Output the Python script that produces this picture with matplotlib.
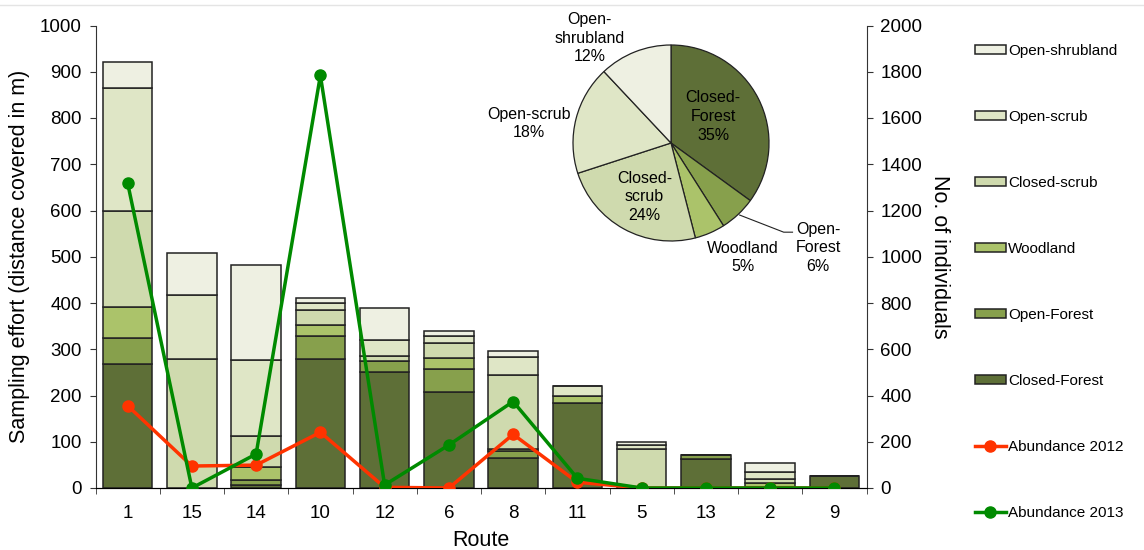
import numpy as np
import matplotlib
matplotlib.use('Agg')
import matplotlib.pyplot as plt
from matplotlib.patches import Patch
from matplotlib.lines import Line2D

plt.rcParams['font.family'] = ['Liberation Sans', 'DejaVu Sans']

# Data
routes = ['1', '15', '14', '10', '12', '6', '8', '11', '5', '13', '2', '9']
closed_forest = [269, 0, 6, 279, 250, 207, 64, 183, 0, 63, 2, 25]
open_forest = [55, 0, 11, 50, 25, 51, 16, 0, 0, 9, 0, 0]
woodland = [67, 0, 29, 23, 0, 23, 4, 16, 0, 0, 9, 0]
closed_scrub = [209, 279, 67, 33, 11, 32, 161, 0, 84, 0, 8, 0]
open_scrub = [264, 138, 163, 15, 35, 16, 39, 21, 10, 0, 16, 0]
open_shrubland = [56, 91, 207, 10, 68, 11, 12, 0, 6, 0, 18, 0]

abund_2012 = [356, 95, 99, 241, 3, 0, 232, 25, 0, 0, 0, 0]
abund_2013 = [1319, 0, 147, 1784, 13, 186, 374, 42, 0, 0, 0, 0]

habitats = ['Closed-Forest', 'Open-Forest', 'Woodland', 'Closed-scrub', 'Open-scrub', 'Open-shrubland']
pie_share = [35, 6, 5, 24, 18, 12]

colors = ['#5e6f37', '#87a04c', '#abc36a', '#cfdaae', '#dfe6c6', '#eef0e2']
red = '#ff3300'
green = '#008a00'

fig = plt.figure(figsize=(11.44, 5.5), dpi=100)
fig.add_artist(Line2D([0, 1], [1 - 5 / 550, 1 - 5 / 550], color='#e4e4e4', lw=1))

ax = fig.add_axes([95.5 / 1144, 62 / 550, 771 / 1144, 462.5 / 550])
x = np.arange(len(routes))
bottom = np.zeros(len(routes))
stack = [closed_forest, open_forest, woodland, closed_scrub, open_scrub, open_shrubland]
for vals, col in zip(stack, colors):
    ax.bar(x, vals, 0.77, bottom=bottom, color=col, edgecolor='#222222', linewidth=1.1, zorder=2)
    bottom += np.array(vals)

ax.set_xlim(-0.5, len(routes) - 0.5)
ax.set_ylim(0, 1000)
ax.set_yticks(np.arange(0, 1001, 100))
ax.set_xticks(x)
ax.set_xticklabels(routes)
ax.set_xticks(np.arange(-0.5, len(routes), 1), minor=True)
ax.tick_params(axis='x', which='major', length=0, labelsize=13.5, pad=12)
ax.tick_params(axis='x', which='minor', length=4, direction='out', color='#333333')
ax.tick_params(axis='y', length=4, direction='out', labelsize=13.5, pad=6, color='#333333')
ax.spines['top'].set_visible(False)
ax.spines['right'].set_visible(False)
for s in ['left', 'bottom']:
    ax.spines[s].set_color('#333333')
ax.set_ylabel('Sampling effort (distance covered in m)', fontsize=15.5, labelpad=7)
ax.set_xlabel('Route', fontsize=15.5, labelpad=6)

ax2 = ax.twinx()
ax2.plot(x, abund_2012, color=red, lw=2.5, marker='o', ms=8, zorder=3)
ax2.plot(x, abund_2013, color=green, lw=2.5, marker='o', ms=8, zorder=4)
ax2.set_ylim(0, 2000)
ax2.set_yticks(np.arange(0, 2001, 200))
ax2.tick_params(axis='y', length=4, direction='out', labelsize=13.5, pad=6, color='#333333')
ax2.spines['top'].set_visible(False)
ax2.spines['left'].set_visible(False)
ax2.spines['right'].set_color('#333333')
ax2.set_ylabel('No. of individuals', fontsize=15.5, rotation=270, labelpad=20)

# Pie inset
pax = fig.add_axes([573 / 1144, (550 - 241) / 550, 196 / 1144, 196 / 550])
wedges, _ = pax.pie(pie_share, colors=colors, startangle=90, counterclock=False,
                    wedgeprops=dict(edgecolor='#222222', linewidth=0.9))
pax.set_xlim(-1, 1)
pax.set_ylim(-1, 1)
pax.set_aspect('equal')

pie_labels = ['Closed-\nForest\n35%', 'Open-\nForest\n6%', 'Woodland\n5%',
              'Closed-\nscrub\n24%', 'Open-scrub\n18%', 'Open-\nshrubland\n12%']
label_pos = [(0.43, 0.27), (1.5, -1.07), (0.73, -1.17), (-0.27, -0.55), (-1.45, 0.2), (-0.83, 1.07)]
for lab, (px, py) in zip(pie_labels, label_pos):
    pax.text(px, py, lab, ha='center', va='center', fontsize=11.5, linespacing=1.3, clip_on=False)
pax.plot([0.70, 1.15, 1.24], [-0.735, -0.91, -0.91], color='#222222', lw=0.8, clip_on=False)

handles = [Patch(facecolor=c, edgecolor='#222222', linewidth=1.1) for c in colors[::-1]]
handles += [Line2D([], [], color=red, lw=2.5, marker='o', ms=8),
            Line2D([], [], color=green, lw=2.5, marker='o', ms=8)]
leg_labels = habitats[::-1] + ['Abundance 2012', 'Abundance 2013']
fig.legend(handles, leg_labels, loc='upper left', bbox_to_anchor=(975 / 1144, 1 - 44 / 550),
           frameon=False, fontsize=11, handlelength=2.0, handleheight=0.5,
           handletextpad=0.15, labelspacing=3.4, borderpad=0, borderaxespad=0)

fig.savefig('out.png', dpi=100)
